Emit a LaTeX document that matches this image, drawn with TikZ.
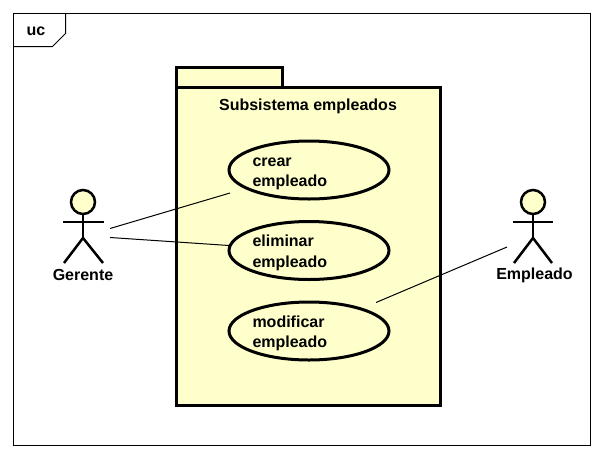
\documentclass[tikz,border=0pt]{standalone}
\usepackage{fontspec}
\setmainfont{Liberation Sans}
\usetikzlibrary{positioning, shapes.geometric}
\definecolor{ucyellow}{RGB}{255,255,204}
\tikzset{
  usecase/.style={ellipse, draw=black, line width=3pt, fill=ucyellow, minimum width=160pt, minimum height=58pt, text width=113pt, align=left, inner sep=0pt, outer sep=0pt, execute at begin node={\rule{0pt}{16.5pt}}},
  limb/.style={draw=black, line width=2.5pt},
  head/.style={circle, draw=black, line width=2.5pt, fill=ucyellow, minimum size=24pt, inner sep=0pt, outer sep=0pt},
  actorname/.style={inner sep=0pt, align=center},
  assoc/.style={draw=black, line width=1pt}
}

\begin{document}
\begin{tikzpicture}[x=1pt, y=-1pt, font=\fontsize{16}{20.5}\selectfont\bfseries]
\useasboundingbox[fill=white] (0,0) rectangle (604,458);

% Frame
\draw[black, line width=1pt] (13.5,13.5) rectangle (590.5,445.5);
\draw[black, line width=1pt] (13.5,46.5) -- (52.5,46.5) -- (65.5,33.5) -- (65.5,13.5);
\node[inner sep=0pt] (frametag) at (36,31.5) {uc};

% Package
\draw[black, fill=ucyellow, line width=3pt] (176.5,67.5) rectangle (282.5,87.5);
\draw[black, fill=ucyellow, line width=3pt] (176.5,87.5) rectangle (440.5,405);
\node[inner sep=0pt] (subsistema) at (308,106) {Subsistema empleados};

% Use cases
\node[usecase] (crear) at (309,170) {crear\\empleado};
\node[usecase, below=22.5pt of crear] (eliminar) {eliminar\\empleado};
\node[usecase, below=22.5pt of eliminar] (modificar) {modificar\\empleado};

% Actor Gerente
\node[head] (gerentehead) at (83,202) {};
\draw[limb] (63,222) -- (104,222);
\draw[limb] (gerentehead.south) -- (83,238);
\draw[limb] (64,263) -- (83,238) -- (103,263);
\node[actorname] (gerente) at (83,275) {Gerente};

% Actor Empleado
\node[head] (empleadohead) at (533,202) {};
\draw[limb] (513,222) -- (553,222);
\draw[limb] (empleadohead.south) -- (533,238);
\draw[limb] (514,263) -- (533,238) -- (552,263);
\node[actorname] (empleado) at (534.5,275) {Empleado};

% Association ends
\coordinate (gerenteA) at (110,228.5);
\coordinate (gerenteB) at (110,237.5);
\coordinate (empleadoA) at (507,247);
\coordinate (crearA) at (230,193);
\coordinate (eliminarA) at (229,245.5);
\coordinate (modificarA) at (376,302.5);

% Associations
\draw[assoc] (gerenteA) -- (crearA);
\draw[assoc] (gerenteB) -- (eliminarA);
\draw[assoc] (empleadoA) -- (modificarA);

\end{tikzpicture}
\end{document}
